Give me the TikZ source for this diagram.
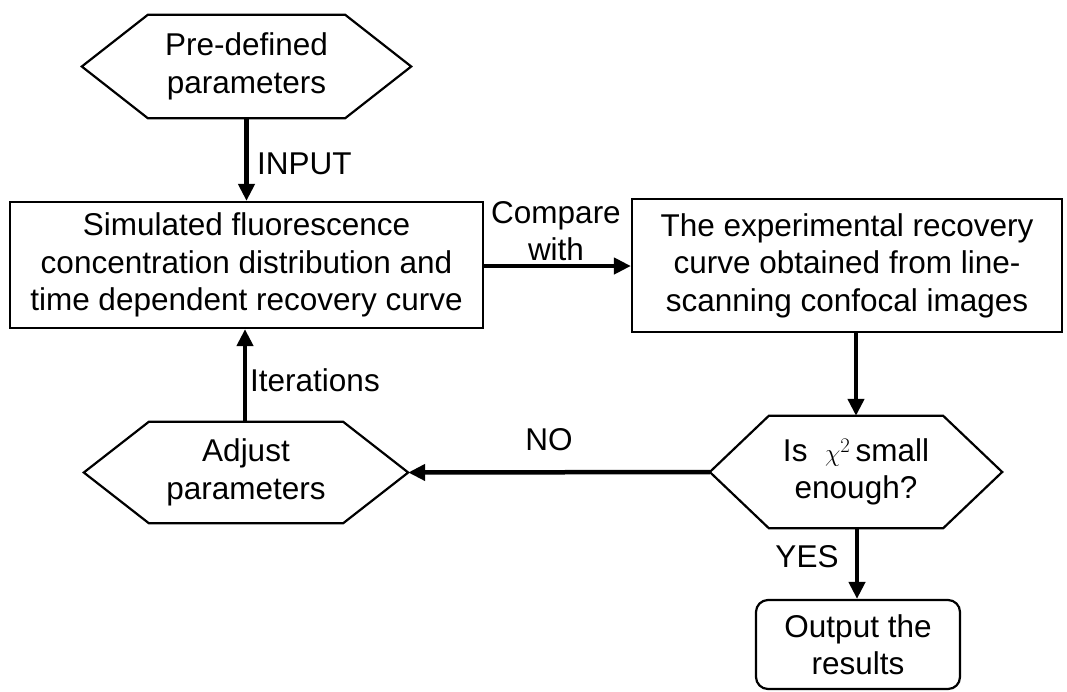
\documentclass[tikz,border=0pt]{standalone}
\usepackage{fontspec}
\setmainfont{Liberation Sans}
\usetikzlibrary{arrows.meta}
\newcommand\lbl{\fontsize{31.5}{37.5}\selectfont}
% hexagonal frame drawn around a rectangular text node: #1 node name, #2 pointer depth
\newcommand\hexframe[2]{%
  \draw[hexline] (#1.north west) -- (#1.north east) -- ([xshift=#2]#1.east)
    -- (#1.south east) -- (#1.south west) -- ([xshift=-#2]#1.west) -- cycle;}
\tikzset{
  hexline/.style={line width=2.2pt, line join=miter},
  txt/.style={align=center, font=\lbl, inner sep=0pt},
  box/.style={txt, draw, line width=2.2pt},
  hexnode/.style={txt},
  flow/.style={line width=4.5pt, -{Triangle[length=17pt,width=16pt]}},
  tag/.style={font=\lbl, inner sep=0pt, align=center},
}
\begin{document}
\begin{tikzpicture}[x=1pt, y=-1pt]
\useasboundingbox (0,0) rectangle (1067,691);

% start
\node[hexnode, minimum width=197pt, minimum height=103pt] (pre) at (246.5,66.5)
  {Pre-defined\\parameters};
\hexframe{pre}{66pt}

% simulation
\node[box, minimum width=473pt, minimum height=126pt] (sim) at (246.5,265)
  {Simulated fluorescence\\concentration distribution and\\time dependent recovery curve};

% experiment
\node[box, minimum width=430pt, minimum height=133pt] (exp) at (847,265.5)
  {The experimental recovery\\curve obtained from line-\\scanning confocal images};

% test
\node[hexnode, minimum width=174pt, minimum height=112pt] (chi) at (856,472)
  {Is\ \ $\chi^{2}$\,small\\enough?};
\hexframe{chi}{59pt}
\coordinate (chitip) at ([xshift=-59pt]chi.west);

% adjust
\node[hexnode, minimum width=194pt, minimum height=101pt] (adj) at (246,472.5)
  {Adjust\\parameters};
\hexframe{adj}{65pt}
\coordinate (adjtip) at ([xshift=65pt]adj.east);

% result
\node[box, rounded corners=12pt, minimum width=204pt, minimum height=89pt] (out) at (858,644.5)
  {Output the\\results};

% connectors
\draw[flow] (pre.south) -- (pre.south |- sim.north);
\draw[flow] (sim.east |- 0,266) -- (exp.west |- 0,266);
\draw[flow] (chi.north |- exp.south) -- (chi.north);
\draw[flow] (chitip) -- (adjtip);
\draw[flow] ([xshift=-1pt]adj.north) -- ([xshift=-1pt]adj.north |- sim.south);
\draw[flow] ([xshift=1pt]chi.south) -- ([xshift=1pt]chi.south |- out.north);

% connector labels
\node[tag, anchor=west] (linput) at (257,164) {INPUT};
\node[tag] (lcmp) at (556,231) {Compare\\with};
\node[tag, anchor=west] (liter) at (250,380) {Iterations};
\node[tag] (lno) at (549,440) {NO};
\node[tag] (lyes) at (807,557) {YES};
\end{tikzpicture}
\end{document}
